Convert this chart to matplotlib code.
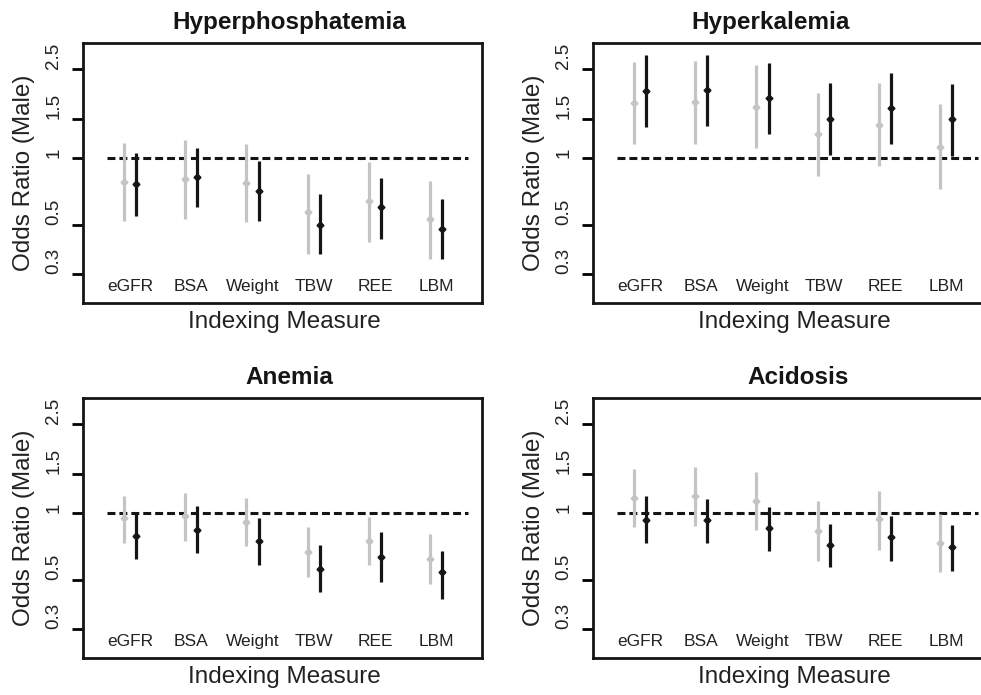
import numpy as np
import matplotlib
matplotlib.use("Agg")
import matplotlib.pyplot as plt

plt.rcParams['font.family'] = ['Liberation Sans', 'DejaVu Sans']

measures = ["eGFR", "BSA", "Weight", "TBW", "REE", "LBM"]
titles = ["Hyperphosphatemia", "Hyperkalemia", "Anemia", "Acidosis"]
yticks = [0.3, 0.5, 1, 1.5, 2.5]
ytick_labels = ["0.3", "0.5", "1", "1.5", "2.5"]

# gray series: estimate, lower, upper
hp_gray = [0.78, 0.80, 0.77, 0.57, 0.64, 0.53]
hp_gray_lo = [0.52, 0.53, 0.515, 0.37, 0.42, 0.35]
hp_gray_hi = [1.17, 1.20, 1.15, 0.85, 0.96, 0.79]
hp_black = [0.76, 0.82, 0.71, 0.50, 0.60, 0.48]
hp_black_lo = [0.55, 0.60, 0.52, 0.37, 0.43, 0.35]
hp_black_hi = [1.05, 1.11, 0.97, 0.69, 0.81, 0.65]

hk_gray = [1.77, 1.79, 1.70, 1.28, 1.41, 1.12]
hk_gray_lo = [1.15, 1.16, 1.11, 0.83, 0.92, 0.725]
hk_gray_hi = [2.70, 2.74, 2.61, 1.96, 2.18, 1.74]
hk_black = [2.00, 2.03, 1.86, 1.50, 1.68, 1.49]
hk_black_lo = [1.38, 1.39, 1.28, 1.035, 1.16, 1.02]
hk_black_hi = [2.92, 2.92, 2.68, 2.18, 2.42, 2.14]

an_gray = [0.95, 0.97, 0.905, 0.665, 0.745, 0.62]
an_gray_lo = [0.73, 0.75, 0.71, 0.515, 0.58, 0.476]
an_gray_hi = [1.19, 1.23, 1.17, 0.86, 0.96, 0.80]
an_black = [0.79, 0.84, 0.745, 0.56, 0.63, 0.54]
an_black_lo = [0.62, 0.66, 0.58, 0.44, 0.49, 0.41]
an_black_hi = [1.00, 1.07, 0.95, 0.72, 0.82, 0.675]

ac_gray = [1.17, 1.19, 1.13, 0.83, 0.94, 0.735]
ac_gray_lo = [0.865, 0.87, 0.84, 0.61, 0.68, 0.54]
ac_gray_hi = [1.57, 1.61, 1.53, 1.13, 1.26, 0.99]
ac_black = [0.93, 0.93, 0.856, 0.715, 0.78, 0.70]
ac_black_lo = [0.73, 0.73, 0.675, 0.57, 0.61, 0.55]
ac_black_hi = [1.19, 1.15, 1.06, 0.89, 0.97, 0.88]

panels = [
    (hp_gray, hp_gray_lo, hp_gray_hi, hp_black, hp_black_lo, hp_black_hi),
    (hk_gray, hk_gray_lo, hk_gray_hi, hk_black, hk_black_lo, hk_black_hi),
    (an_gray, an_gray_lo, an_gray_hi, an_black, an_black_lo, an_black_hi),
    (ac_gray, ac_gray_lo, ac_gray_hi, ac_black, ac_black_lo, ac_black_hi),
]

W, H = 981, 695
fig = plt.figure(figsize=(W / 100, H / 100), dpi=100)

# axes boxes in pixels: left, top
boxes = [(83, 43), (593, 43), (83, 398), (593, 398)]
aw, ah = 399, 260
title_x = [0.516, 0.446, 0.516, 0.515]

gray = "#c4c4c4"
black = "#151515"
x = np.arange(1, 7)

for k, (left, top) in enumerate(boxes):
    ax = fig.add_axes([left / W, (H - top - ah) / H, aw / W, ah / H])
    g, glo, ghi, b, blo, bhi = [np.array(a) for a in panels[k]]
    ax.set_yscale("log")
    ax.set_ylim(0.222, 3.29)
    ax.set_xlim(0.23, 6.75)

    ax.plot([0.62, 6.52], [1, 1], color=black, lw=2.2, linestyle=(0, (2.6, 1.3)), zorder=1)

    ax.errorbar(x - 0.1, g, yerr=[g - glo, ghi - g], fmt="D", color=gray,
                ms=3.5, elinewidth=2.3, capsize=0, zorder=2)
    ax.errorbar(x + 0.1, b, yerr=[b - blo, bhi - b], fmt="D", color=black,
                ms=3.5, elinewidth=2.3, capsize=0, zorder=3)

    for i, m in enumerate(measures):
        ax.text(x[i], 0.263, m, ha="center", va="center", fontsize=12.5, color="#222222")

    ax.set_xticks([])
    ax.yaxis.set_minor_locator(matplotlib.ticker.NullLocator())
    ax.set_yticks(yticks)
    ax.set_yticklabels(ytick_labels, rotation=90, va="bottom", fontsize=13.5, color="#222222")
    ax.tick_params(axis="y", length=8, width=2, pad=7)

    for sp in ax.spines.values():
        sp.set_linewidth(2)
        sp.set_color(black)

    ax.text(title_x[k], 1 + 20 / ah, titles[k], transform=ax.transAxes,
            ha="center", va="center", fontsize=17.5, fontweight="bold", color=black)
    ax.text(0.504, -19 / ah, "Indexing Measure", transform=ax.transAxes,
            ha="center", va="center", fontsize=17.5, color="#222222")
    ax.text(-59 / aw, 0.5, "Odds Ratio (Male)", transform=ax.transAxes,
            ha="center", va="center", rotation=90, fontsize=17.5, color="#222222")

fig.savefig("out.png", dpi=100)
